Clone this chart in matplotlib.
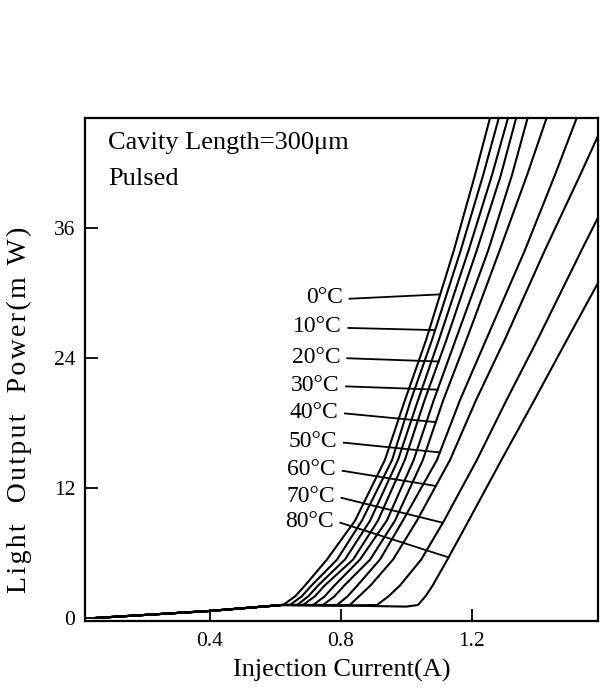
import numpy as np
import matplotlib
matplotlib.use("Agg")
import matplotlib.pyplot as plt

plt.rcParams['font.family'] = ['Liberation Serif', 'DejaVu Serif']

# ---------------- data ----------------
# shared spontaneous-emission part (A, mW)
base_current = [0.05, 0.40, 0.62]
base_power = [0.0, 0.65, 1.15]
# sub-threshold plateau (A, mW)
flat_current = [0.62, 0.80, 1.00]
flat_power = [1.20, 1.15, 1.05]

# power levels (mW) at which each curve's current was read
power_levels = [1.2, 2.0, 3.0, 5.4, 9.0, 14.6, 20.1, 25.7, 34.0, 40.9, 46.2]
nan = float('nan')
curve_1 = [0.623, 0.660, 0.690, 0.757, 0.843, 0.934, 0.995, 1.060, 1.145, 1.209, 1.255]
curve_2 = [0.644, 0.680, 0.710, 0.788, 0.864, 0.956, 1.013, 1.078, 1.166, 1.234, 1.282]
curve_3 = [0.666, 0.700, 0.730, 0.812, 0.889, 0.974, 1.035, 1.099, 1.190, 1.261, 1.310]
curve_4 = [0.684, 0.720, 0.750, 0.837, 0.913, 0.995, 1.055, 1.122, 1.215, 1.288, 1.335]
curve_5 = [0.715, 0.750, 0.780, 0.858, 0.940, 1.022, 1.083, 1.150, 1.250, 1.322, 1.370]
curve_6 = [0.745, 0.780, 0.810, 0.889, 0.965, 1.050, 1.112, 1.183, 1.285, 1.368, 1.428]
curve_7 = [0.788, 0.820, 0.850, 0.919, 0.989, 1.093, 1.163, 1.243, 1.362, 1.453, 1.520]
curve_8 = [0.827, 0.855, 0.890, 0.959, 1.032, 1.133, 1.212, 1.300, 1.423, 1.530, 1.610]
curve_9 = [0.910, 0.945, 0.980, 1.045, 1.115, 1.215, 1.305, 1.400, 1.535, 1.650, nan]
curve_10 = [1.035, 1.058, 1.080, 1.125, 1.190, 1.290, 1.390, 1.490, 1.640, nan, nan]
curves = [curve_1, curve_2, curve_3, curve_4, curve_5,
          curve_6, curve_7, curve_8, curve_9, curve_10]

temp_labels = ['0°C', '10°C', '20°C', '30°C', '40°C', '50°C', '60°C', '70°C', '80°C']
label_curve = [0, 1, 3, 4, 5, 6, 7, 8, 9]          # curve each leader points to
label_power = [29.6, 26.9, 24.1, 21.5, 19.0, 16.3, 13.7, 11.2, 8.9]   # text height (mW)
leader_end_power = [29.9, 26.6, 23.7, 21.1, 18.1, 15.3, 12.2, 8.8, 5.6]

x_ticks = [0.4, 0.8, 1.2]
x_tick_labels = ['0.4', '0.8', '1.2']
y_ticks = [0, 12, 24, 36]

# ---------------- figure ----------------
W, H = 607, 695
fig = plt.figure(figsize=(W / 100, H / 100), dpi=100)
L, R, T, B = 85, 598, 118, 621
ax = fig.add_axes([L / W, 1 - B / H, (R - L) / W, (B - T) / H])
ax.set_xlim(0.018, 1.585)
ax.set_ylim(-0.28, 46.2)

lw = 1.5
pl = np.array(power_levels)
for c in curves:
    ci = np.array(c)
    thr = ci[0]
    fi = np.array(flat_current)
    fp = np.array(flat_power)
    keep = fi < thr - 0.005
    xs = np.concatenate([base_current[:-1], fi[keep], ci])
    ys = np.concatenate([base_power[:-1], fp[keep], pl])
    ax.plot(xs, ys, color='black', lw=lw, solid_joinstyle='round',
            solid_capstyle='round')

# temperature labels with leader lines
for k, (txt, ci_idx, lp, ep) in enumerate(zip(temp_labels, label_curve,
                                               label_power, leader_end_power)):
    c = np.array(curves[ci_idx])
    ok = ~np.isnan(c)
    end_i = np.interp(ep, pl[ok], c[ok])
    tx = 0.806 - 0.0035 * k
    ax.text(tx, lp, txt, ha='right', va='center', fontsize=17, color='black')
    ax.plot([tx + 0.02, end_i], [lp - 0.1, ep], color='black', lw=1.3)

ax.text(0.045, 0.972, 'Cavity Length=300μm', transform=ax.transAxes,
        ha='left', va='top', fontsize=19)
ax.text(0.045, 0.900, 'Pulsed', transform=ax.transAxes,
        ha='left', va='top', fontsize=19)

ax.set_xticks(x_ticks)
ax.set_xticklabels(x_tick_labels)
ax.set_yticks(y_ticks)
ax.tick_params(axis='both', direction='in', length=9, width=1.3,
               labelsize=15.5, colors='black')
ax.tick_params(axis='x', pad=8)
ax.tick_params(axis='y', pad=7)
for s in ax.spines.values():
    s.set_linewidth(1.6)
    s.set_color('black')

ax.set_xlabel('Injection Current(A)', fontsize=19)
ax.xaxis.set_label_coords(0.5, -0.076)
ylab = 'Light  Output  Power(m W)'
ax.set_ylabel('\u200a'.join(ylab), fontsize=20)
ax.yaxis.set_label_coords(-0.103, 0.42)

fig.savefig('out.png', dpi=100, facecolor='white')
